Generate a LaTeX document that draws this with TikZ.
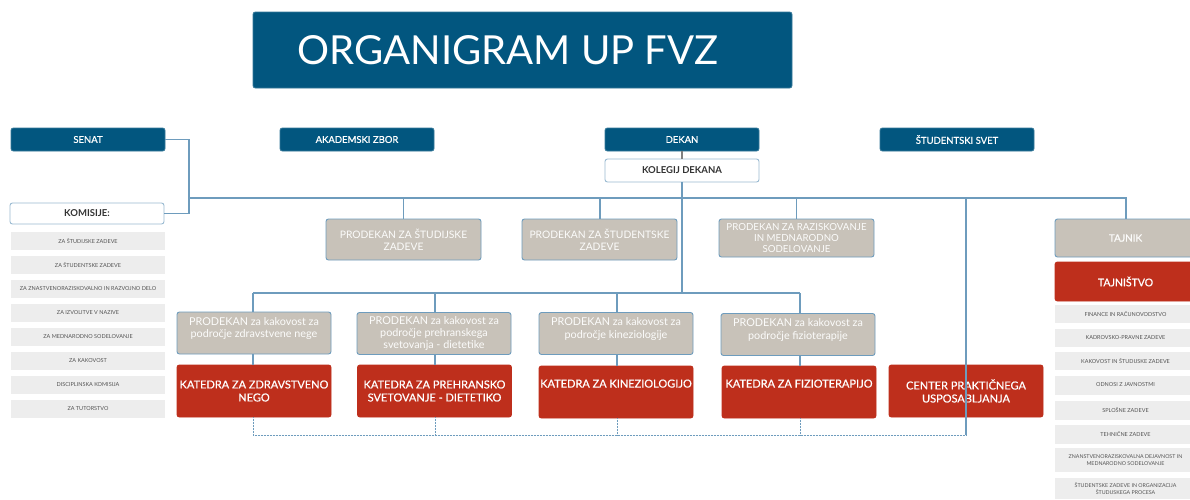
\documentclass[tikz,border=0pt]{standalone}
\usepackage{fontspec}
\setmainfont{Lato}
\newfontfamily\medfont{Lato}[FakeBold=0.6]
\definecolor{navy}{HTML}{02567F}
\definecolor{beige}{HTML}{C8C2B9}
\definecolor{kred}{HTML}{BE2F1C}
\definecolor{lgray}{HTML}{EDEDED}
\definecolor{lnblue}{HTML}{6E9CBD}
\definecolor{txgray}{HTML}{555555}
\tikzset{
  base/.style={rounded corners=2.5pt, inner sep=0pt, align=center, line width=0.9pt},
  bluebox/.style={base, fill=navy, draw=navy!80!white, text=white, minimum width=154pt, minimum height=23pt, font=\medfont\fontsize{9.5}{11}\selectfont},
  whitebox/.style={base, fill=white, draw=lnblue!70, text=black!80, minimum width=154pt, font=\fontsize{9.5}{11}\selectfont\bfseries},
  beigebox/.style={base, fill=beige, draw=lnblue, text=white!95!beige, minimum width=155pt, font=\fontsize{10.3}{11.8}\selectfont},
  kakbox/.style={beigebox, minimum width=154pt, minimum height=42pt, font=\fontsize{10.8}{12.2}\selectfont},
  redbox/.style={base, fill=kred, draw=kred, text=white, minimum width=154pt, minimum height=52pt, font=\medfont\fontsize{11}{13}\selectfont},
  listbox/.style={inner sep=0pt, fill=lgray, text=txgray, align=center, font=\fontsize{5.5}{7}\selectfont},
  conn/.style={draw=lnblue, line width=1.1pt},
  dotconn/.style={draw=lnblue, line width=1pt, dash pattern=on 1pt off 0.5pt},
}
\begin{document}
\begin{tikzpicture}[x=1pt,y=-1pt]
\clip (0,0) rectangle (1190,499);
\fill[white] (0,0) rectangle (1190,499);

% title
\node[base, fill=navy, draw=navy!80!white, minimum width=539pt, minimum height=76pt] (title) at (522.5,50) {};
\node[text=white, inner sep=0pt, font=\fontsize{40}{44}\selectfont] (titletext) at (508,50) {ORGANIGRAM UP FVZ};

% top row
\node[bluebox] (senat) at (88,139.5) {SENAT};
\node[bluebox] (akad) at (357,139.5) {AKADEMSKI ZBOR};
\node[bluebox] (dekan) at (682,139.5) {DEKAN};
\node[bluebox] (svet) at (957,139.5) {ŠTUDENTSKI SVET};
\node[whitebox, minimum height=23pt] (kolegij) at (682,170.5) {KOLEGIJ DEKANA};

% komisije
\node[whitebox, minimum height=21pt] (komisije) at (87,213.5) {KOMISIJE:};
\foreach \t [count=\i] in {ZA ŠTUDIJSKE ZADEVE, ZA ŠTUDENTSKE ZADEVE, ZA ZNASTVENORAZISKOVALNO IN RAZVOJNO DELO, ZA IZVOLITVE V NAZIVE, ZA MEDNARODNO SODELOVANJE, ZA KAKOVOST, DISCIPLINSKA KOMISIJA, ZA TUTORSTVO}
  \node[listbox, minimum width=154pt, minimum height=18pt] (kom\i) at (88,{217+24*\i}) {\t};

% prodekani
\node[beigebox, minimum height=41pt] (pst) at (403.5,239.5) {PRODEKAN ZA ŠTUDIJSKE\\ZADEVE};
\node[beigebox, minimum height=41pt] (pstu) at (599.5,239.5) {PRODEKAN ZA ŠTUDENTSKE\\ZADEVE};
\node[beigebox, minimum height=38pt, font=\fontsize{9.7}{11}\selectfont] (praz) at (796.5,238) {PRODEKAN ZA RAZISKOVANJE\\IN MEDNARODNO\\SODELOVANJE};

% tajnik
\node[beigebox, minimum width=141pt, minimum height=38pt, font=\medfont\fontsize{10}{12}\selectfont] (tajnik) at (1125.5,238) {TAJNIK};
\node[redbox, minimum width=141pt, minimum height=39pt, font=\medfont\fontsize{10.5}{12}\selectfont] (tajnistvo) at (1125.5,281.5) {TAJNIŠTVO};
\node[listbox, minimum width=141pt, minimum height=18pt] (t1) at (1125.5,314) {FINANCE IN RAČUNOVODSTVO};
\node[listbox, minimum width=141pt, minimum height=18pt] (t2) at (1125.5,338) {KADROVSKO-PRAVNE ZADEVE};
\node[listbox, minimum width=141pt, minimum height=18pt] (t3) at (1125.5,361) {KAKOVOST IN ŠTUDIJSKE ZADEVE};
\node[listbox, minimum width=141pt, minimum height=19pt] (t4) at (1125.5,385) {ODNOSI Z JAVNOSTMI};
\node[listbox, minimum width=141pt, minimum height=19pt] (t5) at (1125.5,410.5) {SPLOŠNE ZADEVE};
\node[listbox, minimum width=141pt, minimum height=19pt] (t6) at (1125.5,434.5) {TEHNIČNE ZADEVE};
\node[listbox, minimum width=141pt, minimum height=24pt, font=\fontsize{5.3}{6.6}\selectfont] (t7) at (1125.5,460) {ZNANSTVENORAZISKOVALNA DEJAVNOST IN\\MEDNARODNO SODELOVANJE};
\node[listbox, minimum width=141pt, minimum height=21pt, font=\fontsize{5.3}{6.6}\selectfont] (t8) at (1125.5,488.5) {ŠTUDENTSKE ZADEVE IN ORGANIZACIJA\\ŠTUDIJSKEGA PROCESA};

% prodekani za kakovost
\node[kakbox] (pk1) at (254,333) {PRODEKAN za kakovost za\\področje zdravstvene nege\\[-5pt]\strut};
\node[kakbox] (pk2) at (434,333.5) {PRODEKAN za kakovost za\\področje prehranskega\\svetovanja - dietetike};
\node[kakbox] (pk3) at (616,333.5) {PRODEKAN za kakovost za\\področje kineziologije\\[-5pt]\strut};
\node[kakbox] (pk4) at (798,334.5) {PRODEKAN za kakovost za\\področje fizioterapije\\[-5pt]\strut};

% katedre
\node[redbox] (k1) at (254,391) {KATEDRA ZA ZDRAVSTVENO\\NEGO};
\node[redbox] (k2) at (434.5,391) {KATEDRA ZA PREHRANSKO\\SVETOVANJE - DIETETIKO};
\node[redbox] (k3) at (616,392) {KATEDRA ZA KINEZIOLOGIJO\\\strut};
\node[redbox] (k4) at (799,392) {KATEDRA ZA FIZIOTERAPIJO\\\strut};
\node[redbox] (cpu) at (966,391) {CENTER PRAKTIČNEGA\\USPOSABLJANJA};

% connectors
\coordinate (sx) at (189,139.5);
\coordinate (sk) at (189,213.5);
\coordinate (hl) at (189,198);
\coordinate (hr) at (1126,198);
\path[conn] (senat.east) -- (sx) -- (sk) -- (komisije.east);
\path[conn] (hl) -- (hr) -- (tajnik.north -| hr);
\path[draw=gray, line width=1.1pt] (dekan.south) -- (kolegij.north);
\coordinate (k2h) at (682,293);
\path[conn] (kolegij.south) -- (k2h);
\path[conn] (pst.north |- hl) -- (pst.north);
\path[conn] (600,198) -- (600,219);
\path[conn] (praz.north |- hl) -- (praz.north);
\coordinate (cv) at (966,198);
\coordinate (cb) at (966,435);
\path[conn] (cv) -- (cb);
\coordinate (h2l) at (253,293);
\coordinate (h2r) at (800,293);
\path[conn] (h2l) -- (h2r);
\path[conn] (h2l) -- (h2l |- pk1.north);
\path[conn] (435,293) -- (435,312.5);
\path[conn] (617,293) -- (617,312.5);
\path[conn] (h2r) -- (h2r |- pk4.north);
\path[conn] (253,354) -- (253,365);
\path[conn] (435,354.5) -- (435,365);
\path[conn] (617,354.5) -- (617,366);
\path[conn] (800,355.5) -- (800,366);
\coordinate (bl) at (253,435);
\path[dotconn] (253,417) -- (bl) -- (cb);
\path[dotconn] (435,417) -- (435,435);
\path[dotconn] (617,418) -- (617,435);
\path[dotconn] (800,418) -- (800,435);
\end{tikzpicture}
\end{document}
